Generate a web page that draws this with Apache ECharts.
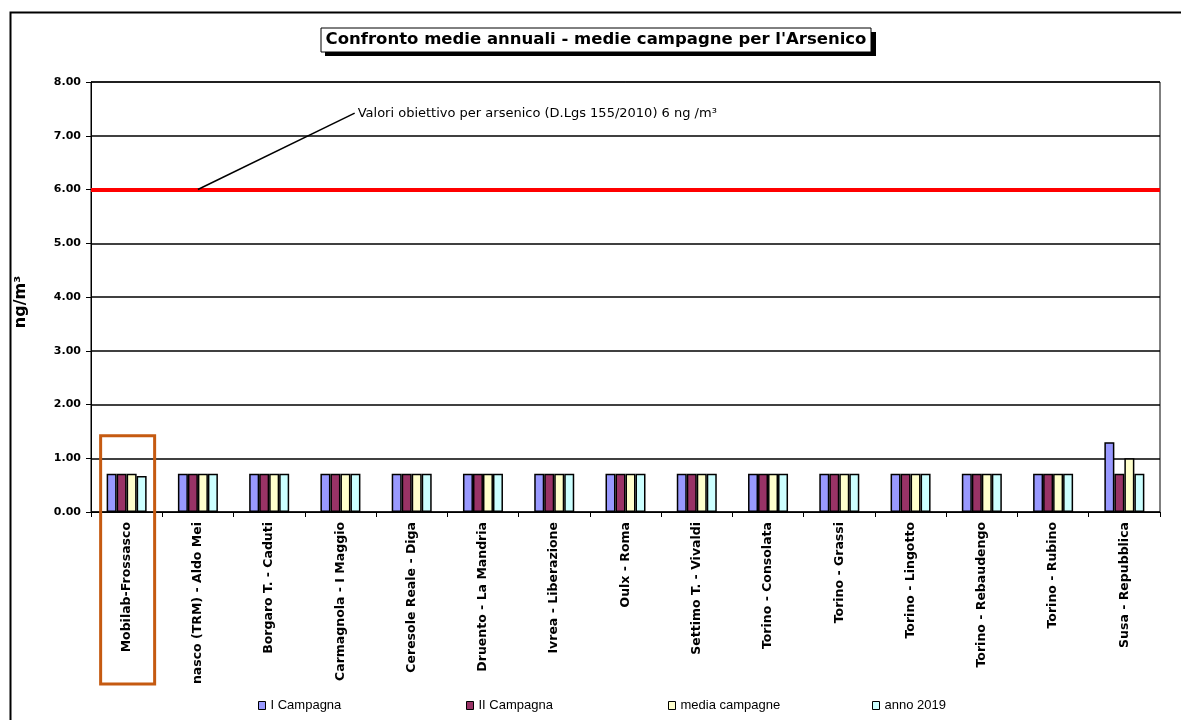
<!DOCTYPE html>
<html>
<head>
<meta charset="utf-8">
<script src="https://cdn.jsdelivr.net/npm/echarts@6/dist/echarts.min.js"></script>
<style>
  html, body { margin: 0; padding: 0; background: #fff; }
  #chart { width: 1181px; height: 720px; }
</style>
</head>
<body>
<div id="chart"></div>
<script>
const categories = [
  'Mobilab-Frossasco', 'nasco (TRM) - Aldo Mei', 'Borgaro T. - Caduti', 'Carmagnola - I Maggio',
  'Ceresole Reale - Diga', 'Druento - La Mandria', 'Ivrea - Liberazione', 'Oulx - Roma',
  'Settimo T. - Vivaldi', 'Torino - Consolata', 'Torino - Grassi', 'Torino - Lingotto',
  'Torino - Rebaudengo', 'Torino - Rubino', 'Susa - Repubblica'
];
const campagna1 = [0.71, 0.71, 0.71, 0.71, 0.71, 0.71, 0.71, 0.71, 0.71, 0.71, 0.71, 0.71, 0.71, 0.71, 1.30];
const campagna2 = [0.71, 0.71, 0.71, 0.71, 0.71, 0.71, 0.71, 0.71, 0.71, 0.71, 0.71, 0.71, 0.71, 0.71, 0.71];
const mediaCampagne = [0.71, 0.71, 0.71, 0.71, 0.71, 0.71, 0.71, 0.71, 0.71, 0.71, 0.71, 0.71, 0.71, 0.71, 1.00];
const anno2019 = [0.67, 0.71, 0.71, 0.71, 0.71, 0.71, 0.71, 0.71, 0.71, 0.71, 0.71, 0.71, 0.71, 0.71, 0.71];
const seriesNames = ['I Campagna', 'II Campagna', 'media campagne', 'anno 2019'];
const seriesColors = ['#9999ff', '#993366', '#ffffcc', '#ccffff'];
const targetValue = 6;

const font = '"Liberation Sans", Arial, sans-serif';
const wide = '"DejaVu Sans", sans-serif';
const chart = echarts.init(document.getElementById('chart'));

function barSeries(name, data, color, extra) {
  return Object.assign({
    name: name,
    type: 'bar',
    data: data,
    barWidth: 10,
    barGap: '0%',
    itemStyle: { color: color, borderColor: '#000', borderWidth: 1.5 }
  }, extra || {});
}

// one legend per item so each sits where the original puts it
const legendLeft = [258, 466, 668, 872];
const legends = seriesNames.map((n, i) => ({
  top: 699,
  left: legendLeft[i],
  padding: 0,
  itemWidth: 7,
  itemHeight: 8,
  itemGap: 4,
  icon: 'rect',
  textStyle: { fontSize: 13, color: '#000', fontFamily: font },
  itemStyle: { borderColor: '#000', borderWidth: 1 },
  data: [n]
}));

chart.setOption({
  animation: false,
  backgroundColor: '#fff',
  textStyle: { fontFamily: font },
  legend: legends,
  grid: {
    left: 91, right: 21, top: 82, bottom: 208,
    show: true, borderColor: '#000', borderWidth: 1
  },
  xAxis: {
    type: 'category',
    data: categories,
    axisLine: { lineStyle: { color: '#000', width: 1 } },
    axisTick: { show: true, length: 5, lineStyle: { color: '#000' } },
    axisLabel: {
      rotate: 90, interval: 0, margin: 10,
      fontSize: 12.5, fontWeight: 'bold', color: '#000', fontFamily: wide
    }
  },
  yAxis: {
    type: 'value',
    min: 0, max: 8, interval: 1,
    name: 'ng/m³',
    nameLocation: 'middle',
    nameGap: 62,
    nameTextStyle: { fontSize: 16, fontWeight: 'bold', color: '#000', fontFamily: wide, padding: [0, 10, 0, 0] },
    axisLine: { show: true, lineStyle: { color: '#000' } },
    axisTick: { show: true, length: 5, lineStyle: { color: '#000' } },
    axisLabel: {
      formatter: v => v.toFixed(2),
      fontSize: 11, fontWeight: 'bold', color: '#000', margin: 10, fontFamily: wide
    },
    splitLine: { lineStyle: { color: '#000', width: 1.5 } }
  },
  series: [
    barSeries(seriesNames[0], campagna1, seriesColors[0], {
      markLine: {
        silent: true, symbol: 'none',
        label: { show: false },
        lineStyle: { color: '#ff0000', width: 4, type: 'solid' },
        data: [{ yAxis: targetValue }]
      }
    }),
    barSeries(seriesNames[1], campagna2, seriesColors[1]),
    barSeries(seriesNames[2], mediaCampagne, seriesColors[2]),
    barSeries(seriesNames[3], anno2019, seriesColors[3])
  ]
});

// annotation and highlight box placed from axis coordinates
const start = chart.convertToPixel({ gridIndex: 0 }, [1, targetValue]);
const x3 = chart.convertToPixel({ xAxisIndex: 0 }, 3);
const x4 = chart.convertToPixel({ xAxisIndex: 0 }, 4);
const endX = x3 + (x4 - x3) * 0.2;
const endY = chart.convertToPixel({ yAxisIndex: 0 }, 7.42);
const c0 = chart.convertToPixel({ xAxisIndex: 0 }, 0);
const boxTop = chart.convertToPixel({ yAxisIndex: 0 }, 1.42);

chart.setOption({
  graphic: [
    {
      type: 'rect', left: 8, top: 10, z: -1, silent: true,
      shape: { width: 1200, height: 720 },
      style: { fill: 'none', stroke: '#000', lineWidth: 2 }
    },
    {
      type: 'rect', silent: true, z: 1,
      shape: { x: 325, y: 32, width: 551, height: 24 },
      style: { fill: '#000' }
    },
    {
      type: 'rect', silent: true, z: 2,
      shape: { x: 321, y: 28, width: 550, height: 24 },
      style: { fill: '#fff', stroke: '#000', lineWidth: 1 }
    },
    {
      type: 'text', silent: true, z: 3,
      x: 596, y: 40,
      style: {
        text: "Confronto medie annuali - medie campagne per l'Arsenico",
        fill: '#000', font: 'bold 16.5px ' + wide, align: 'center', verticalAlign: 'middle'
      }
    },
    {
      type: 'line', silent: true, z: 10,
      shape: { x1: start[0], y1: start[1], x2: endX, y2: endY },
      style: { stroke: '#000', lineWidth: 1.5 }
    },
    {
      type: 'text', silent: true, z: 10,
      x: endX + 3, y: endY,
      style: {
        text: 'Valori obiettivo per arsenico (D.Lgs 155/2010) 6 ng /m³',
        fill: '#000', font: '13px ' + wide, verticalAlign: 'middle'
      }
    },
    {
      type: 'rect', silent: true, z: 10,
      shape: { x: c0 - 26, y: boxTop, width: 54, height: 684 - boxTop },
      style: { fill: 'none', stroke: '#c55a11', lineWidth: 3 }
    }
  ]
});
</script>
</body>
</html>
